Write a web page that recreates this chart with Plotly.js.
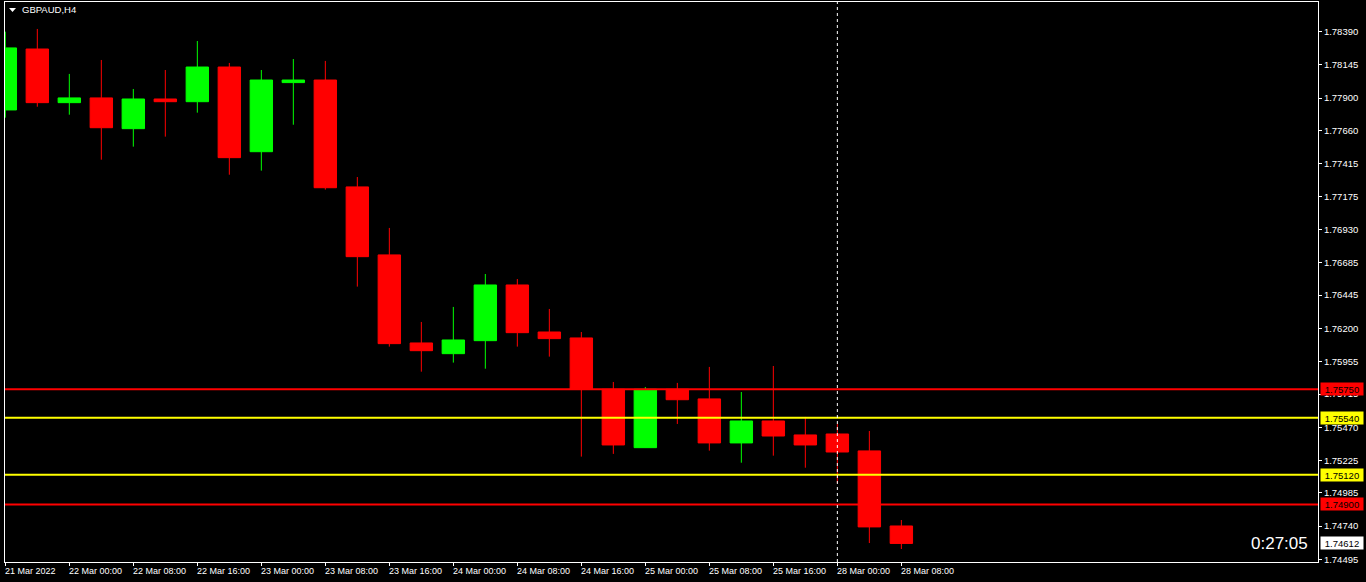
<!DOCTYPE html>
<html><head><meta charset="utf-8">
<script src="https://cdn.plot.ly/plotly-3.0.1.min.js"></script>
<style>html,body{margin:0;padding:0;background:#000;overflow:hidden}#chart{width:1366px;height:582px}</style>
</head><body><div id="chart"></div>
<script>
const chartTitle = "GBPAUD,H4";
const candleTimes = ["21 Mar 16:00","21 Mar 20:00","22 Mar 00:00","22 Mar 04:00","22 Mar 08:00","22 Mar 12:00","22 Mar 16:00","22 Mar 20:00",
  "23 Mar 00:00","23 Mar 04:00","23 Mar 08:00","23 Mar 12:00","23 Mar 16:00","23 Mar 20:00","24 Mar 00:00","24 Mar 04:00",
  "24 Mar 08:00","24 Mar 12:00","24 Mar 16:00","24 Mar 20:00","25 Mar 00:00","25 Mar 04:00","25 Mar 08:00","25 Mar 12:00",
  "25 Mar 16:00","25 Mar 20:00","28 Mar 00:00","28 Mar 04:00","28 Mar 08:00"];
const openP  = [1.77812,1.78262,1.77866,1.77901,1.77674,1.77893,1.77873,1.78129,1.77504,1.78014,1.78033,1.77244,1.76742,1.76092,1.76013,1.76109,
  1.76520,1.76173,1.76129,1.75750,1.75319,1.75750,1.75679,1.75354,1.75516,1.75413,1.75420,1.75295,1.74741];
const highP  = [1.78390,1.78410,1.78078,1.78181,1.77967,1.78107,1.78321,1.78159,1.78107,1.78188,1.78174,1.77317,1.76941,1.76247,1.76358,1.76601,
  1.76564,1.76343,1.76173,1.75804,1.75767,1.75797,1.75915,1.75730,1.75922,1.75546,1.75494,1.75442,1.74785];
const lowP   = [1.77755,1.77836,1.77777,1.77445,1.77541,1.77615,1.77792,1.77334,1.77364,1.77703,1.77224,1.76508,1.76065,1.75880,1.75947,1.75902,
  1.76065,1.75991,1.75253,1.75273,1.75317,1.75494,1.75297,1.75208,1.75260,1.75171,1.75058,1.74615,1.74571];
const closeP = [1.78270,1.77866,1.77901,1.77681,1.77893,1.77873,1.78129,1.77460,1.78033,1.78033,1.77238,1.76729,1.76087,1.76035,1.76114,1.76520,
  1.76168,1.76124,1.75752,1.75339,1.75750,1.75673,1.75354,1.75516,1.75405,1.75339,1.75287,1.74734,1.74612];
const xTickIndex = [0,2,4,6,8,10,12,14,16,18,20,22,24,26,28];
const xTickText = ["21 Mar 2022","22 Mar 00:00","22 Mar 08:00","22 Mar 16:00","23 Mar 00:00","23 Mar 08:00","23 Mar 16:00","24 Mar 00:00",
  "24 Mar 08:00","24 Mar 16:00","25 Mar 00:00","25 Mar 08:00","25 Mar 16:00","28 Mar 00:00","28 Mar 08:00"];
const yTickVals = [1.78390,1.78145,1.77900,1.77660,1.77415,1.77175,1.76930,1.76685,1.76445,1.76200,1.75955,1.75715,1.75470,1.75225,1.74985,1.74740,1.74495];
const redLevels = [1.75750, 1.74900];
const yellowLevels = [1.75540, 1.75120];
const currentPrice = 1.74612;
const countdown = "0:27:05";
const markerIndex = 26;

const xIdx = candleTimes.map((_, i) => i);
const FONT = "Liberation Sans, Arial, sans-serif";

const trace = {
  type: 'candlestick', x: xIdx, open: openP, high: highP, low: lowP, close: closeP,
  text: candleTimes, hoverinfo: 'skip',
  increasing: {line: {color: '#00ff00', width: 1}, fillcolor: '#00ff00'},
  decreasing: {line: {color: '#ff0000', width: 1}, fillcolor: '#ff0000'},
  whiskerwidth: 0
};

const shapes = [];
redLevels.forEach(v => shapes.push({type:'line', xref:'paper', x0:0, x1:1, yref:'y', y0:v, y1:v, line:{color:'#ff0000', width:2}}));
yellowLevels.forEach(v => shapes.push({type:'line', xref:'paper', x0:0, x1:1, yref:'y', y0:v, y1:v, line:{color:'#ffff00', width:2}}));
shapes.push({type:'line', xref:'x', x0:markerIndex, x1:markerIndex, yref:'paper', y0:0, y1:1, line:{color:'#ffffff', width:1, dash:'3px,3px'}});
shapes.push({type:'path', xref:'paper', yref:'paper', xsizemode:'pixel', ysizemode:'pixel', xanchor:0, yanchor:1,
  path:'M4,-6 L11,-6 L7.5,-10 Z', fillcolor:'#ffffff', line:{width:0}});

const annotations = [];
annotations.push({xref:'paper', yref:'paper', x:0, y:1, xanchor:'left', yanchor:'middle', xshift:15, yshift:-7,
  text: chartTitle, showarrow:false, font:{family:FONT, size:9.5, color:'#ffffff'}});
xTickIndex.forEach((k, i) => annotations.push({xref:'x', yref:'paper', x:k, y:0, xanchor:'left', yanchor:'middle',
  xshift:-2, yshift:-9, text:xTickText[i], showarrow:false, font:{family:FONT, size:9, color:'#ffffff'}}));
const tag = (v, bg) => ({xref:'paper', yref:'y', x:1, y:v, xanchor:'left', yanchor:'middle', xshift:2,
  text: v.toFixed(5), showarrow:false, bgcolor:bg, borderpad:1, width:40, height:10,
  font:{family:FONT, size:9.5, color:'#000000'}});
redLevels.forEach(v => annotations.push(tag(v, '#ff0000')));
yellowLevels.forEach(v => annotations.push(tag(v, '#ffff00')));
annotations.push(tag(currentPrice, '#ffffff'));
annotations.push({xref:'paper', yref:'y', x:1, y:currentPrice, xanchor:'right', yanchor:'middle', xshift:-8,
  text: countdown, showarrow:false, font:{family:FONT, size:17, color:'#ffffff'}});

const layout = {
  width:1366, height:582, paper_bgcolor:'#000000', plot_bgcolor:'#000000',
  margin:{l:5, r:48, t:2, b:20, pad:0},
  showlegend:false, hovermode:false, boxgap:0,
  xaxis:{range:[-0.01, 41.02], rangeslider:{visible:false}, showgrid:false, zeroline:false,
    tickmode:'array', tickvals:xTickIndex, ticktext:xTickText, showticklabels:false,
    ticks:'outside', ticklen:3, tickcolor:'#ffffff', showline:true, linecolor:'#ffffff', linewidth:1, mirror:true, fixedrange:true},
  yaxis:{range:[1.74475, 1.78609], side:'right', showgrid:false, zeroline:false,
    tickmode:'array', tickvals:yTickVals, ticktext:yTickVals.map(v => v.toFixed(5)),
    ticks:'outside', ticklen:3, tickcolor:'#ffffff', showline:true, linecolor:'#ffffff', linewidth:1, mirror:true,
    tickfont:{family:FONT, size:9.5, color:'#ffffff'}, fixedrange:true},
  shapes: shapes, annotations: annotations
};
Plotly.newPlot('chart', [trace], layout, {displayModeBar:false, staticPlot:true});
</script></body></html>
